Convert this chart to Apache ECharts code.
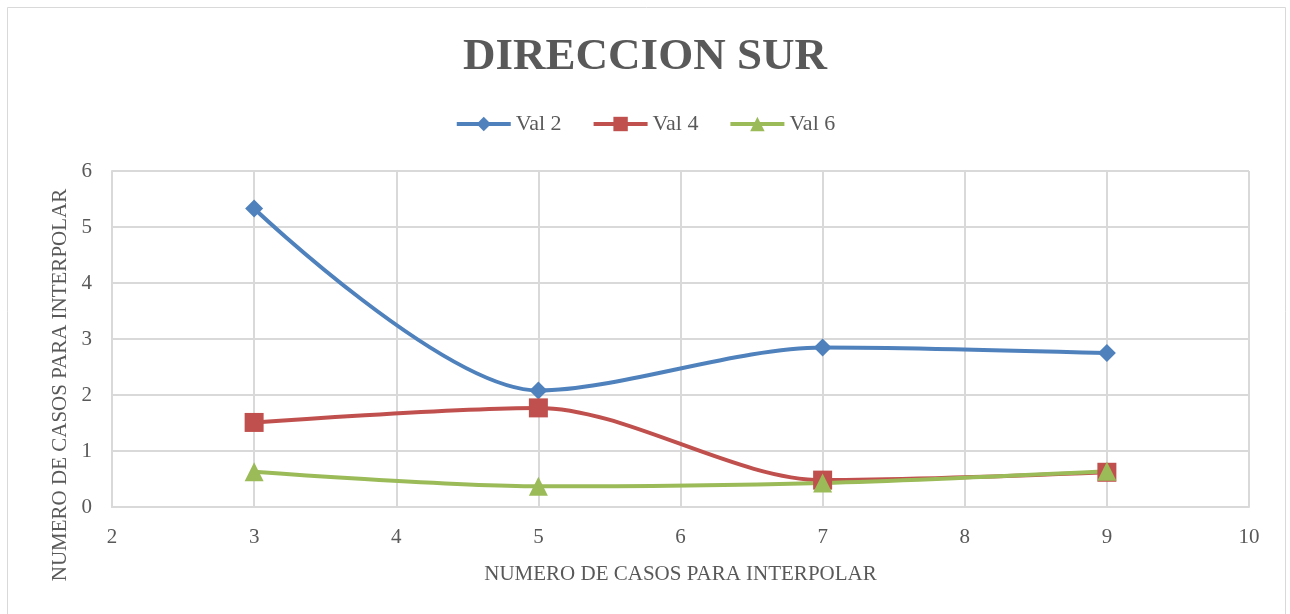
<!DOCTYPE html>
<html lang="es">
<head>
    <meta charset="UTF-8">
    <title>Direccion Sur</title>
    <script src="https://cdn.jsdelivr.net/npm/echarts@6/dist/echarts.min.js"></script>
    <style>
        html, body { margin: 0; height: 100%; background: #fff; }
        #main { width: 1290px; height: 614px; }
    </style>
</head>
<body>
<div id="main"></div>
<script type="text/javascript">
    // datos
    var casos = [3, 5, 7, 9];
    var val2 = [5.33, 2.08, 2.85, 2.75];
    var val4 = [1.51, 1.77, 0.48, 0.62];
    var val6 = [0.63, 0.37, 0.43, 0.64];
    var xTicks = [2, 3, 4, 5, 6, 7, 8, 9, 10];

    var fuente = 'Liberation Serif, DejaVu Serif, serif';
    var gris = '#595959';

    function pares(ys) {
        return casos.map(function (x, i) { return [x, ys[i]]; });
    }

    var chart = echarts.init(document.getElementById('main'));
    var option = {
        animation: false,
        title: {
            text: 'DIRECCION SUR',
            left: 'center',
            top: 30,
            textStyle: {
                fontFamily: fuente,
                fontSize: 45,
                fontWeight: 'bold',
                color: gris
            }
        },
        legend: {
            top: 108,
            left: 'center',
            itemWidth: 54,
            itemHeight: 18,
            itemGap: 30,
            lineStyle: { width: 4 },
            textStyle: { fontFamily: fuente, fontSize: 22, color: gris },
            data: ['Val 2', 'Val 4', 'Val 6']
        },
        grid: { left: 112, right: 41, top: 171, bottom: 107 },
        xAxis: {
            type: 'value',
            min: 2, max: 10, interval: 1,
            name: 'NUMERO DE CASOS PARA INTERPOLAR',
            nameLocation: 'middle',
            nameGap: 57,
            nameTextStyle: { fontFamily: fuente, fontSize: 21, color: gris },
            axisLine: { show: true, lineStyle: { color: '#d9d9d9', width: 2 } },
            axisTick: { show: false },
            axisLabel: {
                margin: 20, fontFamily: fuente, fontSize: 21, color: gris,
                formatter: function (v) { return xTicks.indexOf(v) >= 0 ? String(v) : ''; }
            },
            splitLine: { show: true, lineStyle: { color: '#d9d9d9', width: 2 } }
        },
        yAxis: {
            type: 'value',
            min: 0, max: 6, interval: 1,
            axisLine: { show: true, lineStyle: { color: '#d9d9d9', width: 2 } },
            axisTick: { show: false },
            axisLabel: { margin: 20, fontFamily: fuente, fontSize: 21, color: gris },
            splitLine: { show: true, lineStyle: { color: '#d9d9d9', width: 2 } }
        },
        graphic: [
            {
                type: 'rect',
                shape: { x: 7.5, y: 7.5, width: 1278, height: 620 },
                style: { fill: 'none', stroke: '#d9d9d9', lineWidth: 1 },
                silent: true
            },
            {
                type: 'text',
                x: 60, y: 385,
                rotation: Math.PI / 2,
                style: {
                    text: 'NUMERO DE CASOS PARA INTERPOLAR',
                    fontFamily: fuente, fontSize: 21, fill: gris,
                    textAlign: 'center', textVerticalAlign: 'middle'
                }
            }
        ],
        series: [
            {
                name: 'Val 2', type: 'line', data: pares(val2),
                smooth: 0.3, symbol: 'diamond', symbolSize: 18,
                itemStyle: { color: '#4F81BD' },
                lineStyle: { width: 4, color: '#4F81BD' }
            },
            {
                name: 'Val 4', type: 'line', data: pares(val4),
                smooth: 0.3, symbol: 'rect', symbolSize: 19,
                itemStyle: { color: '#C0504D' },
                lineStyle: { width: 4, color: '#C0504D' }
            },
            {
                name: 'Val 6', type: 'line', data: pares(val6),
                smooth: 0.3, symbol: 'triangle', symbolSize: 19,
                itemStyle: { color: '#9BBB59' },
                lineStyle: { width: 4, color: '#9BBB59' }
            }
        ]
    };
    chart.setOption(option);
</script>
</body>
</html>
